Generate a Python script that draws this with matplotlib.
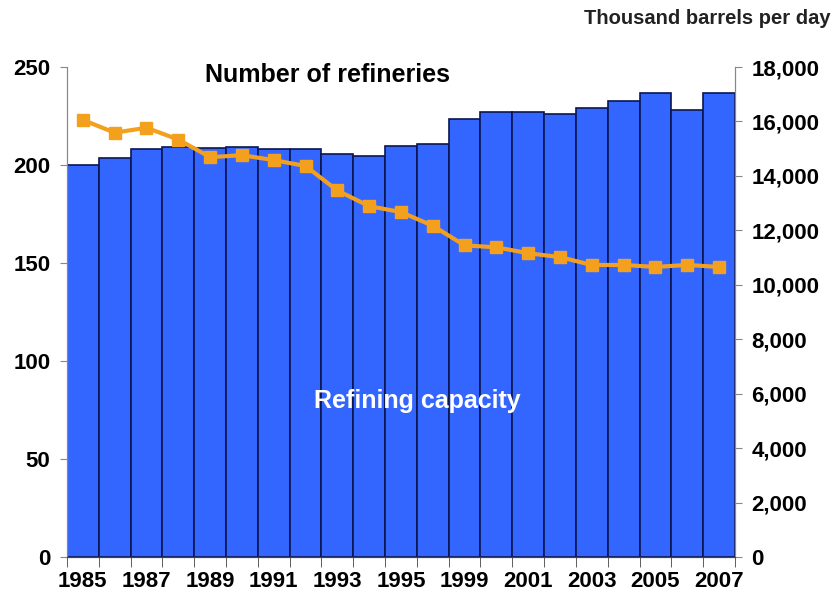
import numpy as np
import matplotlib
matplotlib.use('Agg')
import matplotlib.pyplot as plt

plt.rcParams['font.family'] = ['Liberation Sans', 'DejaVu Sans']

years = ['1985', '1986', '1987', '1988', '1989', '1990', '1991', '1992', '1993', '1994',
         '1995', '1997', '1999', '2000', '2001', '2002', '2003', '2004', '2005', '2006', '2007']
capacity = [14400, 14650, 14980, 15050, 15020, 15070, 14990, 14990, 14800, 14730,
            15100, 15170, 16090, 16340, 16360, 16270, 16500, 16760, 17030, 16420, 17030]
refineries = [223, 216.5, 219, 213, 204, 205, 202.5, 199.5, 187, 179,
              176, 169, 159, 158, 155, 153, 149, 149, 148, 149, 148]

x = np.arange(len(years))

fig = plt.figure(figsize=(8.36, 6.01), dpi=100)
ax = fig.add_axes([0.0801, 0.0732, 0.7990, 0.8153])
ax2 = ax.twinx()

# bars on the right axis (capacity), line on the left axis (refineries)
ax2.bar(x, capacity, width=1.0, color='#3366FF', edgecolor='#0B1650', linewidth=1.2, zorder=1)
ax2.set_ylim(0, 18000)
ax2.set_yticks(np.arange(0, 18001, 2000))
ax2.set_yticklabels([f'{v:,}' for v in range(0, 18001, 2000)])

ax.set_zorder(ax2.get_zorder() + 1)
ax.patch.set_visible(False)
ax.plot(x, refineries, color='#F2A01E', linewidth=3, marker='s', markersize=9,
        markerfacecolor='#F2A01E', markeredgecolor='#F2A01E')
ax.set_ylim(0, 250)
ax.set_yticks(np.arange(0, 251, 50))
ax.set_xlim(-0.5, len(years) - 0.5)

ax.set_xticks(x[::2])
ax.set_xticklabels(years[::2])
ax.set_xticks(np.arange(-0.5, len(years), 1), minor=True)
ax.tick_params(axis='x', which='major', length=0, pad=10)
ax.tick_params(axis='x', which='minor', length=7, color='#444444', direction='out')
ax.tick_params(axis='y', length=5, color='#888888', pad=7)
ax2.tick_params(axis='y', length=5, color='#888888', pad=7)

for lab in ax.get_xticklabels() + ax.get_yticklabels() + ax2.get_yticklabels():
    lab.set_fontsize(16)
    lab.set_fontweight('bold')

for a in (ax, ax2):
    a.spines['top'].set_visible(False)
    a.spines['left'].set_color('#888888')
    a.spines['right'].set_color('#888888')
    a.spines['bottom'].set_color('#444444')

ax.text(0.207, 0.984, 'Number of refineries', transform=ax.transAxes, fontsize=18,
        fontweight='bold', color='black', va='center', ha='left')
ax.text(0.525, 0.318, 'Refining capacity', transform=ax.transAxes, fontsize=18,
        fontweight='bold', color='white', va='center', ha='center')
fig.text(0.993, 0.969, 'Thousand barrels per day', fontsize=14.5, fontweight='bold',
         color='#222222', ha='right', va='center')

fig.savefig('out.png', dpi=100)
